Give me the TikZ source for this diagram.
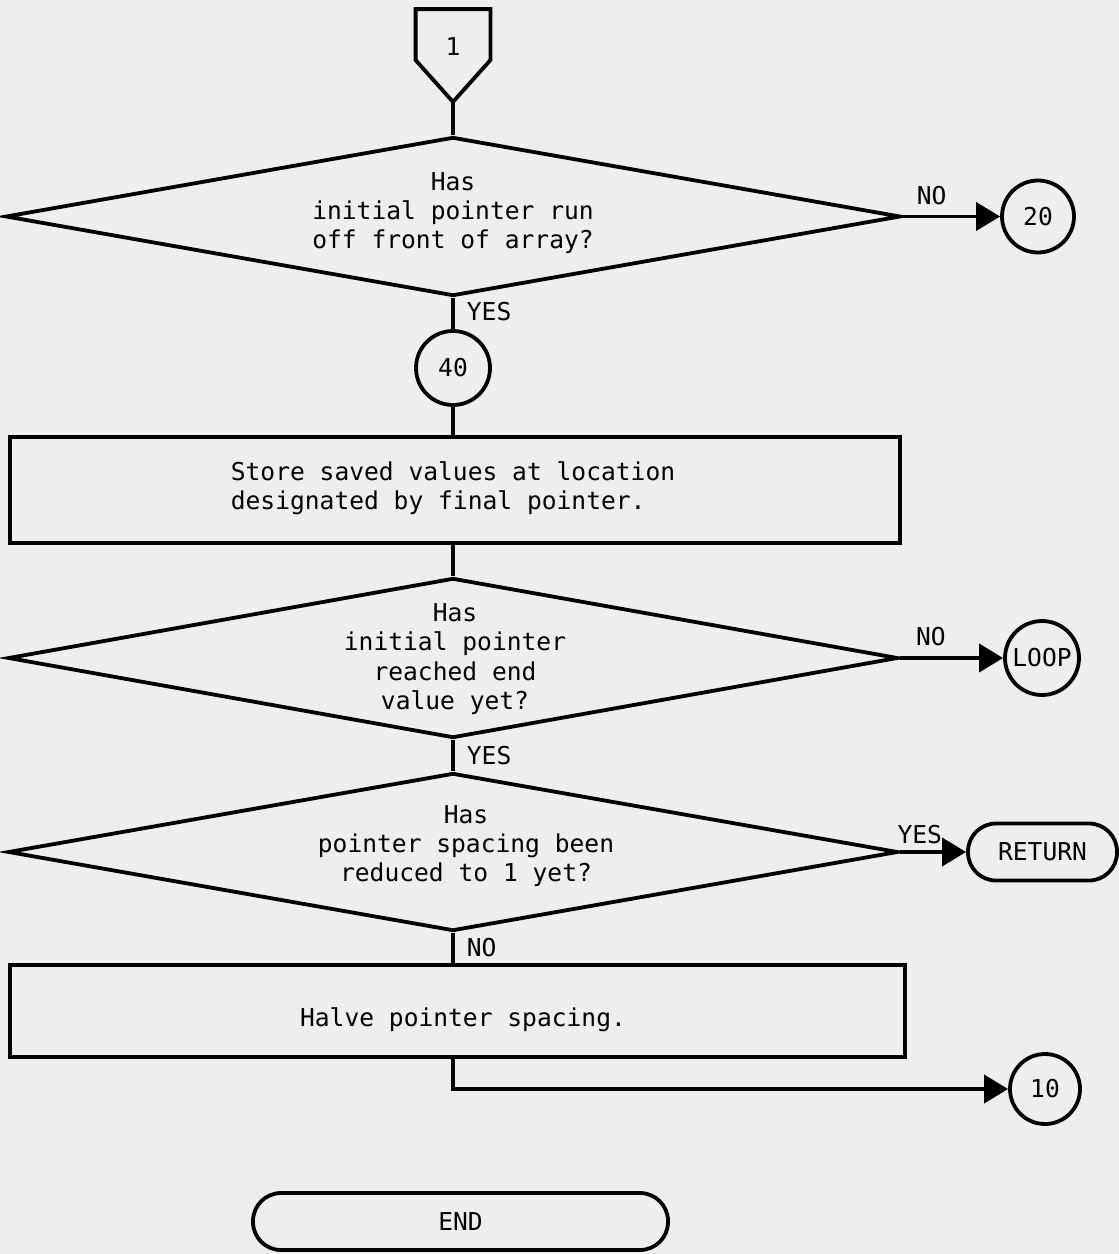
\documentclass[tikz,border=0pt]{standalone}
\usepackage{fontspec}
\setmonofont{DejaVu Sans Mono}
\usetikzlibrary{shapes.geometric,arrows.meta,calc}
\definecolor{paper}{RGB}{238,238,236}
\begin{document}
\begin{tikzpicture}[x=0.5pt,y=-0.5pt,line width=1.9pt,
  every node/.style={font=\ttfamily\fontsize{12.3}{14.6}\selectfont},
  decision/.style={diamond,draw,inner sep=0pt},
  procbox/.style={rectangle,draw,inner sep=0pt},
  conn/.style={circle,draw,inner sep=0pt,minimum size=36pt},
  term/.style={rectangle,draw,rounded corners=14pt,inner sep=0pt,minimum height=28.5pt},
  txt/.style={align=center,inner sep=0pt},
  lbl/.style={inner sep=0pt},
  flow/.style={-{Triangle[length=12pt,width=14pt]}}]
\fill[paper] (0,0) rectangle (1119,1254);
\useasboundingbox (0,0) rectangle (1119,1254);

% off-page connector 1
\node[minimum width=35.5pt,minimum height=44.5pt,inner sep=0pt] (c1) at (453,55.5) {};
\draw ($(c1.north west)+(0,51)$) -- (c1.north west) -- (c1.north east) -- ($(c1.north east)+(0,51)$) -- (c1.south) -- cycle;
\node[lbl] (c1t) at (453,47) {1};

% decision 1
\node[decision,minimum width=447.5pt,minimum height=79.5pt] (d1) at (453,216.5) {};
\node[txt] (d1t) at (453,213) {Has\\initial pointer run\\off front of array?};
\node[conn] (n20) at (1038,216.5) {20};

% connector 40
\node[conn,minimum size=37pt] (n40) at (453,368) {40};

% process 1
\node[procbox,minimum width=445pt,minimum height=53pt] (r1) at (455,490) {};
\node[txt,align=left] (r1t) at (453,488) {Store saved values at location\\designated by final pointer.};

% decision 2
\node[decision,minimum width=445pt,minimum height=80pt] (d2) at (453,658) {};
\node[txt] (d2t) at (455,659) {Has\\initial pointer\\reached end\\value yet?};
\node[conn,minimum size=37pt] (loop) at (1042,658) {LOOP};

% decision 3
\node[decision,minimum width=445pt,minimum height=79pt] (d3) at (453,852) {};
\node[txt] (d3t) at (466,846) {Has\\pointer spacing been\\reduced to 1 yet?};
\node[term,minimum width=74.5pt] (ret) at (1042.5,852) {RETURN};

% process 2
\node[procbox,minimum width=447.5pt,minimum height=46pt] (r2) at (457.5,1011) {};
\node[txt] (r2t) at (463,1020) {Halve pointer spacing.};
\node[conn,minimum size=35pt] (n10) at (1045,1089) {10};

% end
\node[term,minimum width=207.5pt] (endt) at (460.5,1221.5) {END};

% connectors
\draw (c1.south) -- (d1.north);
\draw[flow] (d1.east) -- node[lbl,pos=0.3,above=5pt] (no1) {NO} (n20.west);
\draw (d1.south) -- node[lbl,pos=0.45,right=6pt] (yes1) {YES} (n40.north);
\draw (n40.south) -- (n40.south |- r1.north);
\draw (d2.north |- r1.south) -- (d2.north);
\draw[flow] (d2.east) -- node[lbl,pos=0.3,above=5pt] (no2) {NO} (loop.west);
\draw (d2.south) -- node[lbl,pos=0.5,right=6pt] (yes2) {YES} (d3.north);
\draw[flow] (d3.east) -- node[lbl,pos=0.3,above=3pt] (yes3) {YES} (ret.west);
\draw (d3.south) -- node[lbl,pos=0.5,right=6pt] (no3) {NO} (r2.north -| d3.south);
\draw[flow] (r2.south -| d3.south) |- (n10.west);
\end{tikzpicture}
\end{document}
